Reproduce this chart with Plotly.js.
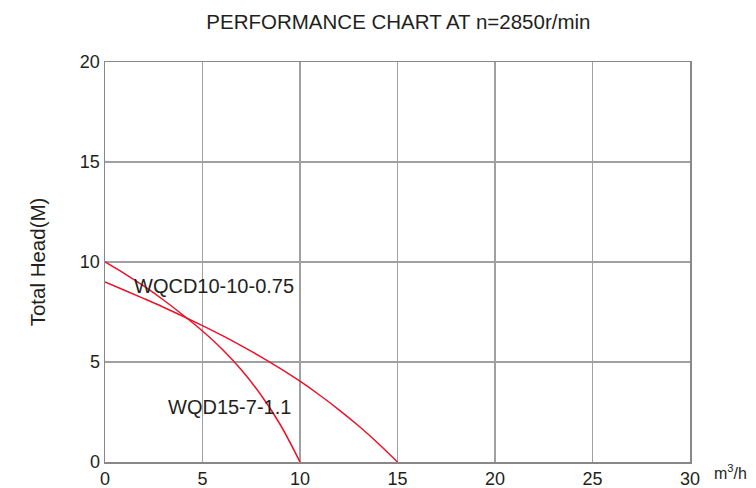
<!DOCTYPE html>
<html><head><meta charset="utf-8">
<script src="https://cdn.plot.ly/plotly-3.0.1.min.js"></script>
<style>html,body{margin:0;padding:0;background:#fff}</style>
</head><body>
<div id="chart" style="width:756px;height:488px"></div>
<script>
const flowSteep = [0, 1, 2, 3, 4, 5, 6, 7, 8, 9, 10];
const headSteep = [10, 9.42, 8.79, 8.10, 7.35, 6.55, 5.65, 4.60, 3.35, 1.85, 0];
const flowFlat = [0, 1, 2, 3, 4, 5, 6, 7, 8, 9, 10, 11, 12, 13, 14, 15];
const headFlat = [9.0, 8.59, 8.17, 7.74, 7.29, 6.82, 6.33, 5.81, 5.26, 4.67, 4.04, 3.35, 2.61, 1.81, 0.94, 0];
const labelSteep = "WQD15-7-1.1";
const labelFlat = "WQCD10-10-0.75";
const xTicks = [0, 5, 10, 15, 20, 25, 30];
const yTicks = [0, 5, 10, 15, 20];

const red = "#e8142a";
const font = "Liberation Sans, Arial, sans-serif";
const data = [
  {x: flowSteep, y: headSteep, mode: "lines", line: {color: red, width: 1.5, shape: "spline", smoothing: 1}, hoverinfo: "skip"},
  {x: flowFlat, y: headFlat, mode: "lines", line: {color: red, width: 1.5, shape: "spline", smoothing: 1}, hoverinfo: "skip"}
];
const layout = {
  width: 756, height: 488,
  margin: {l: 105, r: 66, t: 62, b: 26},
  paper_bgcolor: "#fff", plot_bgcolor: "#fff",
  showlegend: false,
  font: {family: font, color: "#231f20", size: 18},
  title: {text: "PERFORMANCE CHART AT n=2850r/min", font: {family: font, size: 20.5, color: "#231f20"}, x: 0.527, xanchor: "center", y: 0.955, yanchor: "middle"},
  xaxis: {range: [0, 30], tickvals: xTicks, ticktext: xTicks.map(String), showgrid: true, gridcolor: "#a0a0a0", gridwidth: 1.2,
          showline: true, linecolor: "#888888", linewidth: 1.5, mirror: true, zeroline: false, ticks: "", ticklen: 0,
          tickfont: {size: 18, color: "#231f20"}, fixedrange: true},
  yaxis: {range: [0, 20], tickvals: yTicks, ticktext: yTicks.map(String), showgrid: true, gridcolor: "#a0a0a0", gridwidth: 1.2,
          showline: true, linecolor: "#888888", linewidth: 1.5, mirror: true, zeroline: false, ticks: "", ticklen: 0,
          tickfont: {size: 18, color: "#231f20"}, fixedrange: true,
          title: {text: "Total Head(M)", font: {size: 20.5, color: "#231f20"}, standoff: 28}},
  annotations: [
    {x: 1.4, y: 8.8, xref: "x", yref: "y", text: labelFlat, showarrow: false, xanchor: "left", yanchor: "middle",
     font: {size: 20, color: "#231f20"}},
    {x: 3.15, y: 2.75, xref: "x", yref: "y", text: labelSteep, showarrow: false, xanchor: "left", yanchor: "middle",
     font: {size: 20, color: "#231f20"}},
    {x: 1, y: 0, xref: "paper", yref: "paper", xshift: 40, yshift: -10, text: "m<sup>3</sup>/h", showarrow: false,
     xanchor: "center", yanchor: "middle", font: {size: 16, color: "#231f20"}}
  ]
};
Plotly.newPlot("chart", data, layout, {staticPlot: true, displayModeBar: false});
</script>
</body></html>
